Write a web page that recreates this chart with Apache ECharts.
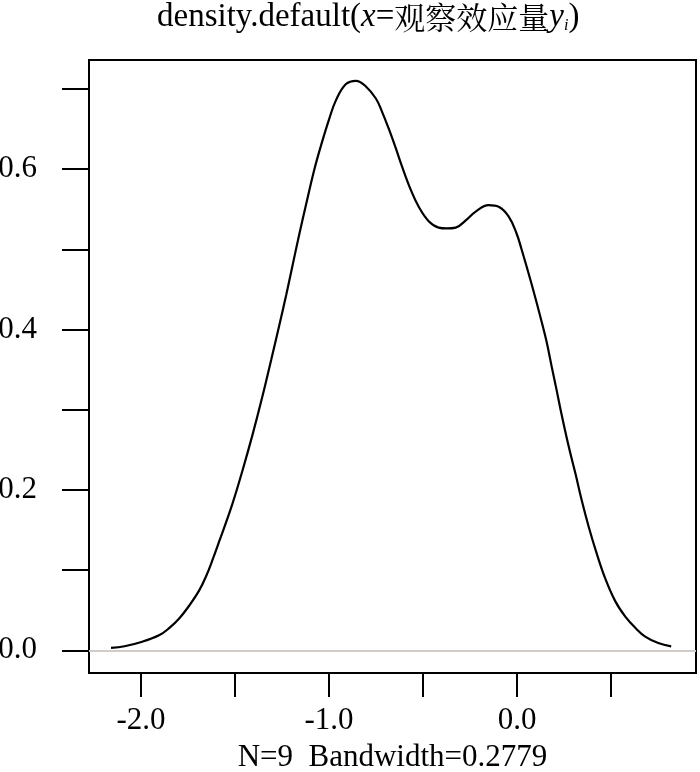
<!DOCTYPE html>
<html>
<head>
<meta charset="utf-8">
<script src="https://cdn.jsdelivr.net/npm/echarts@6/dist/echarts.min.js"></script>
<style>
html,body{margin:0;padding:0;background:#fff;}
#chart{width:700px;height:772px;}
</style>
</head>
<body>
<div id="chart"></div>
<script>
// Density estimate
var densityX = [-2.16, -2.088, -2.003, -1.902, -1.849, -1.796, -1.743, -1.690, -1.653, -1.621,
  -1.584, -1.515, -1.462, -1.408, -1.355, -1.308, -1.265, -1.228, -1.196, -1.159,
  -1.122, -1.080, -1.042, -1.000, -0.963, -0.910, -0.857, -0.804, -0.751, -0.719,
  -0.682, -0.645, -0.613, -0.565, -0.523, -0.470, -0.417, -0.374, -0.326, -0.273,
  -0.220, -0.151, -0.098, -0.045, -0.003, 0.024, 0.077, 0.125, 0.157, 0.184,
  0.210, 0.237, 0.274, 0.311, 0.343, 0.380, 0.422, 0.470, 0.523, 0.576,
  0.629, 0.682, 0.751, 0.820];
var densityY = [0.003, 0.005, 0.010, 0.019, 0.028, 0.040, 0.056, 0.075, 0.093, 0.112,
  0.136, 0.182, 0.223, 0.268, 0.316, 0.362, 0.405, 0.443, 0.478, 0.518,
  0.556, 0.598, 0.630, 0.662, 0.686, 0.706, 0.710, 0.703, 0.688, 0.672,
  0.650, 0.626, 0.604, 0.574, 0.553, 0.535, 0.527, 0.526, 0.527, 0.536,
  0.547, 0.555, 0.553, 0.541, 0.520, 0.500, 0.457, 0.415, 0.385, 0.354,
  0.325, 0.294, 0.255, 0.220, 0.188, 0.155, 0.122, 0.089, 0.061, 0.042,
  0.028, 0.017, 0.009, 0.005];
var xTicks = [-2.0, -1.5, -1.0, -0.5, 0.0, 0.5];
var xTickLabels = [-2.0, -1.0, 0.0];
var yTicks = [0.0, 0.1, 0.2, 0.3, 0.4, 0.5, 0.6, 0.7];
var yTickLabels = [0.0, 0.2, 0.4, 0.6];
var xLabel = 'N=9  Bandwidth=0.2779';

var FONT = '"Liberation Serif", "DejaVu Serif", serif';
var FS = 31;
var TFS = 33;
var pts = densityX.map(function (x, i) { return [x, densityY[i]]; });

var chart = echarts.init(document.getElementById('chart'), null, {renderer: 'canvas'});
chart.setOption({
  animation: false,
  backgroundColor: '#ffffff',
  title: {
    left: 152, top: -4,
    text: '{n|density.default(}{it|x}{n|=}{cjk|观察效应量}{it|y}{sub|i}{n|)}',
    textStyle: {
      fontWeight: 'normal',
      rich: {
        n: {fontFamily: FONT, fontSize: TFS, fontWeight: 'normal', color: '#000'},
        it: {fontFamily: FONT, fontSize: TFS, fontWeight: 'normal', fontStyle: 'italic', color: '#000'},
        cjk: {fontFamily: '"Noto Serif CJK SC", "Noto Sans CJK SC", sans-serif', fontSize: TFS - 2, fontWeight: 'normal', color: '#000'},
        sub: {fontFamily: FONT, fontSize: 16, fontWeight: 'normal', fontStyle: 'italic', color: '#000', padding: [17, 0, 0, 0]}
      }
    }
  },
  grid: {left: 89, top: 60, width: 607, height: 613, show: true, borderColor: '#000', borderWidth: 2,
    backgroundColor: 'transparent', containLabel: false, outerBoundsMode: 'none'},
  xAxis: {
    type: 'value', min: -2.277, max: 0.952,
    name: xLabel, nameLocation: 'middle', nameGap: 69,
    nameTextStyle: {fontFamily: FONT, fontSize: FS, color: '#000'},
    axisLine: {show: true, onZero: false, lineStyle: {color: '#000', width: 2}},
    axisTick: {show: true, customValues: xTicks, length: 24, lineStyle: {color: '#000', width: 2}},
    axisLabel: {customValues: xTickLabels, fontFamily: FONT, fontSize: FS, color: '#000', margin: 32,
      formatter: function (v) { return v.toFixed(1); }},
    splitLine: {show: false}
  },
  yAxis: {
    type: 'value', min: -0.0283, max: 0.736,
    axisLine: {show: true, onZero: false, lineStyle: {color: '#000', width: 2}},
    axisTick: {show: true, customValues: yTicks, length: 27, lineStyle: {color: '#000', width: 2}},
    axisLabel: {customValues: yTickLabels, fontFamily: FONT, fontSize: FS, color: '#000', margin: 52,
      formatter: function (v) { return v.toFixed(1); }},
    splitLine: {show: false}
  },
  series: [{
    type: 'line',
    data: pts,
    showSymbol: false,
    smooth: 0.4,
    lineStyle: {color: '#000', width: 2.2},
    markLine: {
      silent: true, symbol: 'none', label: {show: false},
      lineStyle: {color: '#d2ccc9', width: 2, type: 'solid'},
      data: [{yAxis: 0}]
    },
    z: 3
  }]
});
</script>
</body>
</html>
